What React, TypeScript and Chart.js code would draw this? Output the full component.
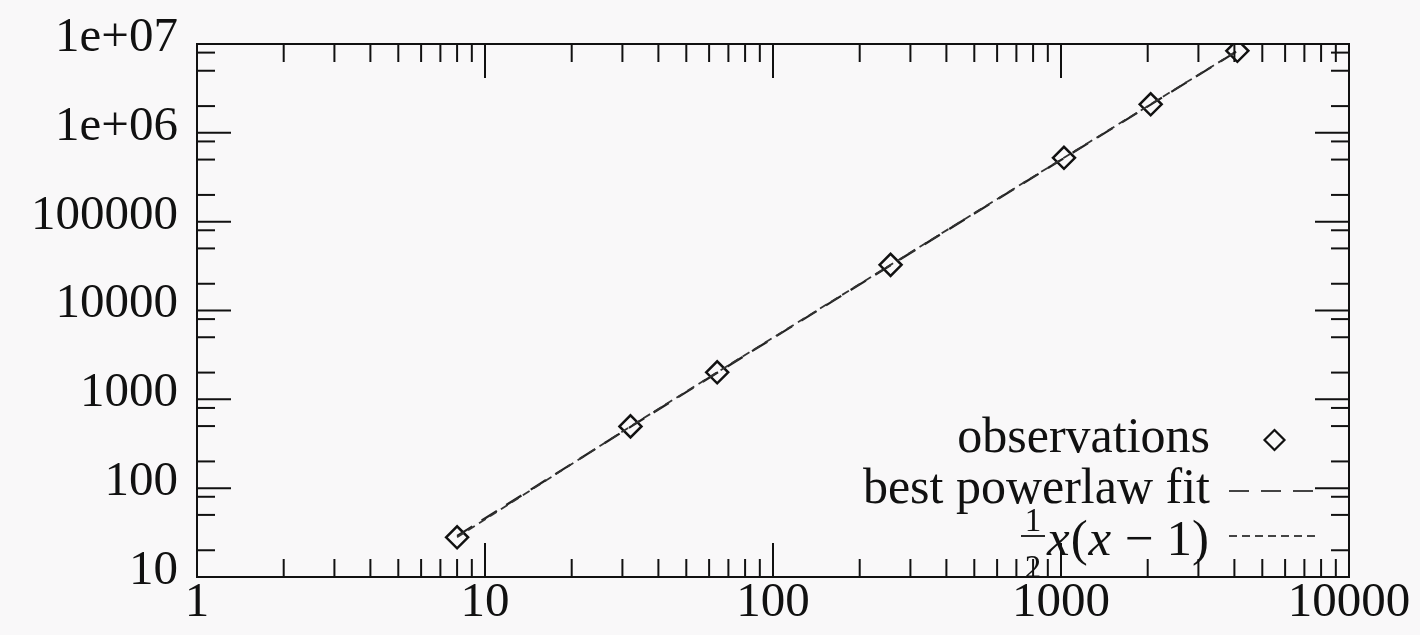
import { useEffect, useRef } from 'react';
import { Chart, registerables } from 'chart.js';

Chart.register(...registerables);

// ---- data ----
const xValues = [8, 32, 64, 256, 1024, 2048, 4096];
const observations = [28, 496, 2016, 32640, 523776, 2096128, 8386560];
const powerlawFit = [29, 490, 1990, 32300, 519000, 2080000, 8330000];
const halfXXMinus1 = [28, 496, 2016, 32640, 523776, 2096128, 8386560];

const xTickValues = [1, 10, 100, 1000, 10000];
const xTickLabels = ['1', '10', '100', '1000', '10000'];
const yTickValues = [10, 100, 1000, 10000, 100000, 1000000, 10000000];
const yTickLabels = ['10', '100', '1000', '10000', '100000', '1e+06', '1e+07'];
const xMinorSteps = [2, 3, 4, 5, 6, 7, 8, 9];
const yMinorSteps = [2, 5, 8];

const legendLabels = ['observations', 'best powerlaw fit'];

const FONT = '"Liberation Serif", "Times New Roman", serif';
const INK = '#111111';
const MAJOR = 34;
const MINOR = 18;

const frameTicks = {
  id: 'frameTicks',
  afterDatasetsDraw(chart: any) {
    const { ctx, chartArea: a, scales } = chart;
    const xs = scales.x;
    const ys = scales.y;
    ctx.save();
    ctx.strokeStyle = INK;
    ctx.lineWidth = 2;
    const seg = (x1: number, y1: number, x2: number, y2: number) => {
      ctx.beginPath();
      ctx.moveTo(x1, y1);
      ctx.lineTo(x2, y2);
      ctx.stroke();
    };
    xTickValues.forEach((v, i) => {
      const px = xs.getPixelForValue(v);
      seg(px, a.bottom, px, a.bottom - MAJOR);
      seg(px, a.top, px, a.top + MAJOR);
      if (i < xTickValues.length - 1) {
        xMinorSteps.forEach((m) => {
          const p = xs.getPixelForValue(v * m);
          seg(p, a.bottom, p, a.bottom - MINOR);
          seg(p, a.top, p, a.top + MINOR);
        });
      }
    });
    yTickValues.forEach((v, i) => {
      const py = ys.getPixelForValue(v);
      seg(a.left, py, a.left + MAJOR, py);
      seg(a.right, py, a.right - MAJOR, py);
      if (i < yTickValues.length - 1) {
        yMinorSteps.forEach((m) => {
          const p = ys.getPixelForValue(v * m);
          seg(a.left, p, a.left + MINOR, p);
          seg(a.right, p, a.right - MINOR, p);
        });
      }
    });
    ctx.strokeRect(a.left, a.top, a.right - a.left, a.bottom - a.top);
    ctx.restore();
  },
};

const gnuplotKey = {
  id: 'gnuplotKey',
  afterDraw(chart: any) {
    const { ctx, chartArea: a } = chart;
    const textRight = a.right - 139;
    const sampleL = a.right - 120;
    const sampleR = a.right - 29;
    const rows = [a.bottom - 137, a.bottom - 86, a.bottom - 41];
    ctx.save();
    ctx.fillStyle = INK;
    ctx.textBaseline = 'alphabetic';
    ctx.textAlign = 'right';
    ctx.font = `50px ${FONT}`;
    ctx.fillText(legendLabels[0], textRight, rows[0] + 12);
    ctx.fillText(legendLabels[1], textRight, rows[1] + 12);

    // diamond sample
    const cx = (sampleL + sampleR) / 2;
    const r = 10;
    ctx.strokeStyle = INK;
    ctx.lineWidth = 2.2;
    ctx.beginPath();
    ctx.moveTo(cx, rows[0] - r);
    ctx.lineTo(cx + r, rows[0]);
    ctx.lineTo(cx, rows[0] + r);
    ctx.lineTo(cx - r, rows[0]);
    ctx.closePath();
    ctx.stroke();

    // line samples
    ctx.strokeStyle = '#444';
    ctx.lineWidth = 2;
    ctx.setLineDash([20, 12]);
    ctx.beginPath();
    ctx.moveTo(sampleL, rows[1]);
    ctx.lineTo(sampleR, rows[1]);
    ctx.stroke();
    ctx.setLineDash([8, 5]);
    ctx.beginPath();
    ctx.moveTo(sampleL, rows[2]);
    ctx.lineTo(sampleR, rows[2]);
    ctx.stroke();
    ctx.setLineDash([]);

    // 1/2 x(x - 1)
    const base = rows[2] + 19;
    const pieces = [
      { t: 'x', it: true },
      { t: '(', it: false },
      { t: 'x', it: true },
      { t: ' \u2212 1)', it: false },
    ];
    const widths = pieces.map((p) => {
      ctx.font = `${p.it ? 'italic ' : ''}51px ${FONT}`;
      return ctx.measureText(p.t).width + 1;
    });
    const total = widths.reduce((s, w) => s + w, 0);
    let x = textRight - total;
    ctx.textAlign = 'left';
    pieces.forEach((p, i) => {
      ctx.font = `${p.it ? 'italic ' : ''}51px ${FONT}`;
      ctx.fillText(p.t, x, base);
      x += widths[i];
    });
    const fx = textRight - total - 14;
    ctx.textAlign = 'center';
    ctx.font = `33px ${FONT}`;
    ctx.fillText('1', fx, base - 24);
    ctx.fillText('2', fx, base + 23);
    ctx.lineWidth = 1.8;
    ctx.strokeStyle = INK;
    ctx.beginPath();
    ctx.moveTo(fx - 12, base - 19);
    ctx.lineTo(fx + 12, base - 19);
    ctx.stroke();
    ctx.restore();
  },
};

export default function App() {
  const canvasRef = useRef<HTMLCanvasElement | null>(null);

  useEffect(() => {
    const canvas = canvasRef.current;
    if (!canvas) return;
    const chart = new Chart(canvas, {
      type: 'scatter',
      data: {
        datasets: [
          {
            label: 'observations',
            data: xValues.map((x, i) => ({ x, y: observations[i] })),
            showLine: false,
            pointStyle: 'rectRot',
            pointRadius: 11,
            pointBorderWidth: 2.5,
            pointBorderColor: INK,
            pointBackgroundColor: 'rgba(0,0,0,0)',
            order: 3,
          },
          {
            label: 'best powerlaw fit',
            data: xValues.map((x, i) => ({ x, y: powerlawFit[i] })),
            showLine: true,
            borderColor: '#222',
            borderWidth: 2.2,
            borderDash: [18, 11],
            pointRadius: 0,
            order: 2,
          },
          {
            label: '1/2 x(x-1)',
            data: xValues.map((x, i) => ({ x, y: halfXXMinus1[i] })),
            showLine: true,
            borderColor: '#333',
            borderWidth: 1.8,
            borderDash: [8, 5],
            pointRadius: 0,
            order: 1,
          },
        ],
      },
      options: {
        animation: false,
        responsive: true,
        maintainAspectRatio: false,
        layout: { padding: { left: 0, top: 44, right: 71, bottom: 0 } },
        plugins: {
          legend: { display: false },
          tooltip: { enabled: false },
        },
        scales: {
          x: {
            type: 'logarithmic',
            min: 1,
            max: 10000,
            grid: { display: false, drawTicks: false },
            border: { display: false },
            afterBuildTicks: (s: any) => {
              s.ticks = xTickValues.map((v) => ({ value: v }));
            },
            afterFit: (s: any) => {
              s.height = 58;
            },
            ticks: {
              autoSkip: false,
              maxRotation: 0,
              padding: 2,
              color: INK,
              font: { family: FONT, size: 49, lineHeight: 1 },
              callback: (v: any) => {
                const i = xTickValues.indexOf(Number(v));
                return i >= 0 ? xTickLabels[i] : '';
              },
            },
          },
          y: {
            type: 'logarithmic',
            min: 10,
            max: 10000000,
            grid: { display: false, drawTicks: false },
            border: { display: false },
            afterBuildTicks: (s: any) => {
              s.ticks = yTickValues.map((v) => ({ value: v }));
            },
            afterFit: (s: any) => {
              s.width = 197;
            },
            ticks: {
              autoSkip: false,
              padding: 19,
              labelOffset: -6,
              color: INK,
              font: { family: FONT, size: 49, lineHeight: 1 },
              callback: (v: any) => {
                const i = yTickValues.indexOf(Number(v));
                return i >= 0 ? yTickLabels[i] : '';
              },
            },
          },
        },
      },
      plugins: [frameTicks, gnuplotKey],
    });
    return () => chart.destroy();
  }, []);

  return (
    <div
      style={{
        position: 'fixed',
        left: 0,
        top: 0,
        width: 1420,
        height: 635,
        background: '#f9f8f9',
      }}
    >
      <canvas ref={canvasRef} />
    </div>
  );
}
